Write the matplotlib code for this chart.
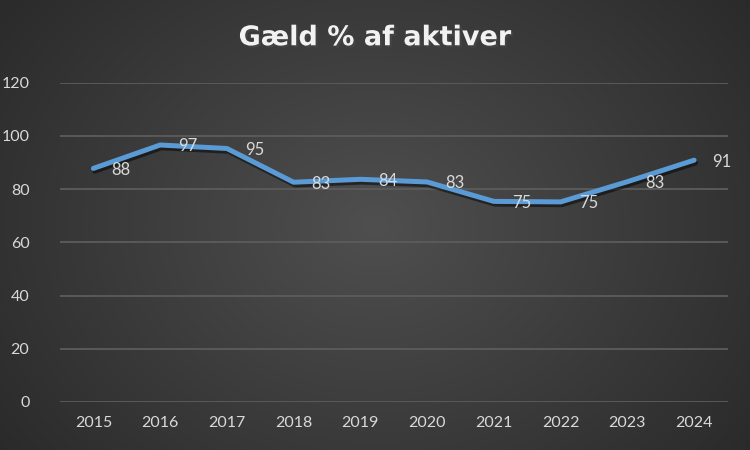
import numpy as np
import matplotlib.pyplot as plt
import matplotlib.patheffects as pe

years = ["2015", "2016", "2017", "2018", "2019", "2020", "2021", "2022", "2023", "2024"]
debt_pct = [87.8, 96.6, 95.3, 82.6, 83.7, 82.7, 75.4, 75.2, 82.8, 90.9]
title = "Gæld % af aktiver"

plt.rcParams['font.family'] = ['Lato', 'DejaVu Sans']

fig = plt.figure(figsize=(7.5, 4.5), dpi=100)

# radial gradient background
bg = fig.add_axes([0, 0, 1, 1])
yy, xx = np.mgrid[0:450, 0:750]
r = np.sqrt(((xx - 375) / 520.0) ** 2 + ((yy - 225) / 420.0) ** 2)
r = np.clip(r, 0, 1)
lum = 0.31 - 0.16 * r
img = np.dstack([lum, lum, lum])
bg.imshow(img, aspect='auto', extent=[0, 1, 0, 1])
bg.axis('off')

ax = fig.add_axes([0.08, 0.107, 0.89, 0.709])
ax.patch.set_alpha(0)
x = np.arange(len(years))
ax.plot(x, debt_pct, color='#5B9BD5', lw=3.6, solid_capstyle='round', solid_joinstyle='round',
        path_effects=[pe.SimpleLineShadow(offset=(1, -2), shadow_color='black', alpha=0.5), pe.Normal()],
        zorder=3)
for xi, v in zip(x, debt_pct):
    ax.annotate(f"{round(v)}", (xi, v), xytext=(13, -1), textcoords='offset points',
                ha='left', va='center', color='#d9d9d9', fontsize=12, zorder=4)

ax.set_xlim(-0.5, len(years) - 0.5)
ax.set_ylim(0, 120)
ax.set_yticks(range(0, 121, 20))
ax.set_xticks(x)
ax.set_xticklabels(years)
ax.grid(axis='y', color='#5c5c5c', lw=1.3)
ax.set_axisbelow(True)
for s in ax.spines.values():
    s.set_visible(False)
ax.tick_params(length=0, colors='#d9d9d9', labelsize=11.5, pad=10)
ax.tick_params(axis='y', pad=22)

fig.text(0.5, 0.915, title, ha='center', va='center', color='#f2f2f2', fontsize=19.5,
         fontweight='bold', family='DejaVu Sans',
         path_effects=[pe.withSimplePatchShadow(offset=(1.5, -1.5), alpha=0.6)])

fig.savefig('out.png', dpi=100)
